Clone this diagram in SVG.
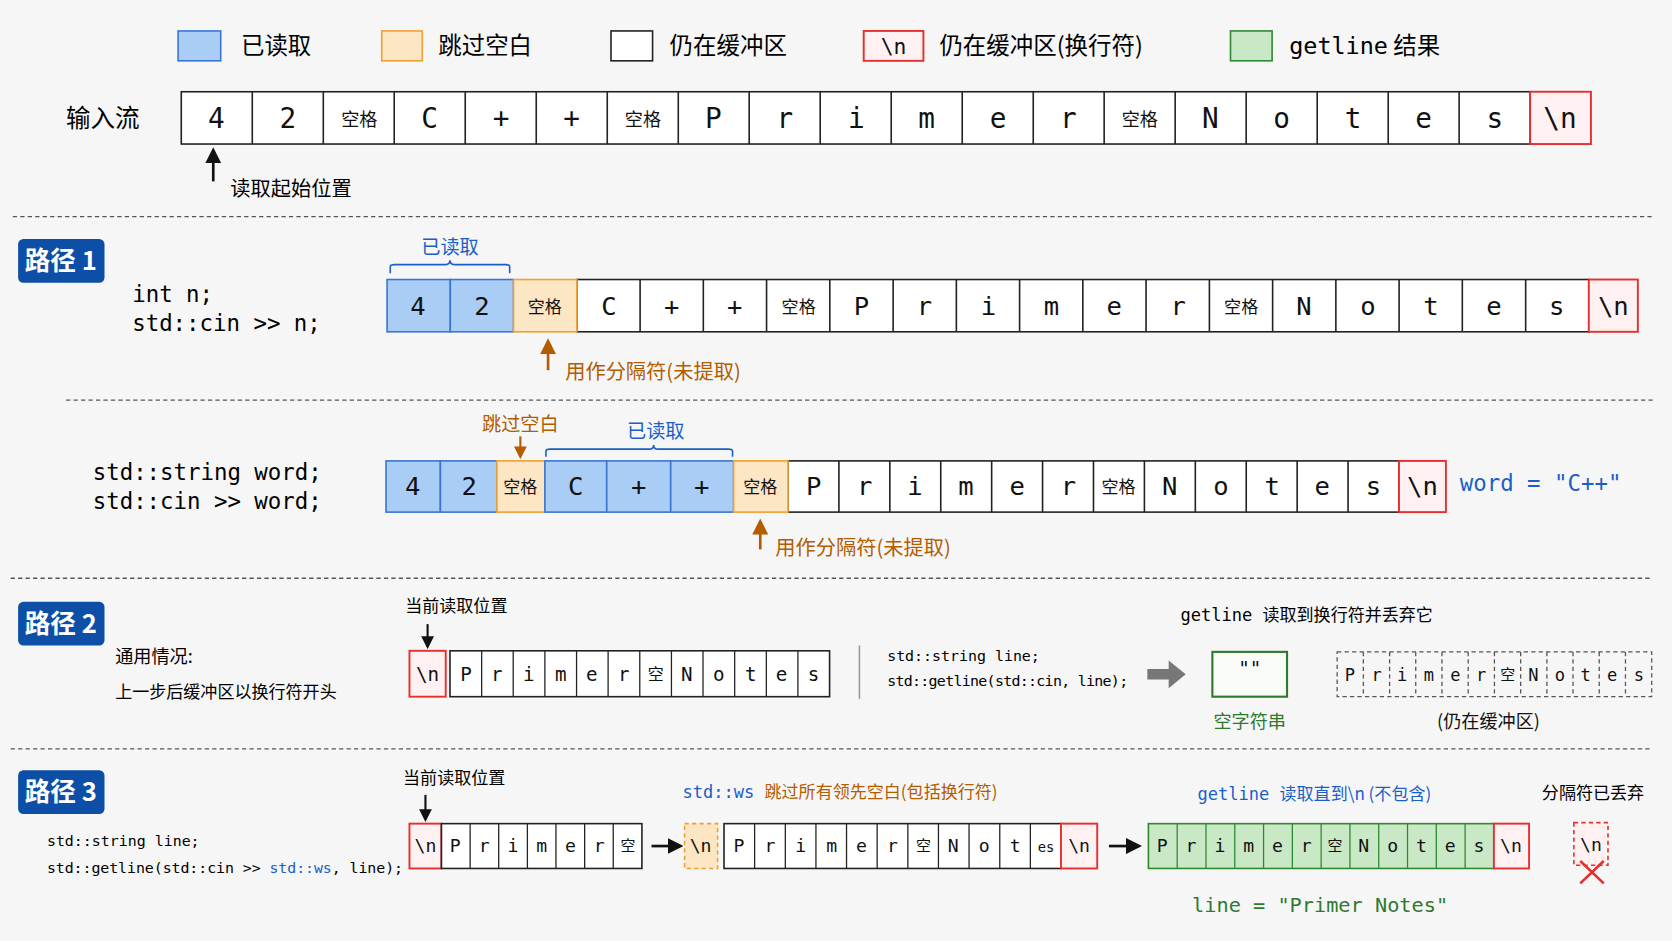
<svg xmlns="http://www.w3.org/2000/svg" width="1672" height="941" viewBox="0 0 1672 941">
<defs>
<style>
.cj{font-family:"Noto Sans CJK SC","Noto Sans",sans-serif}
.mo{font-family:"DejaVu Sans Mono","Liberation Mono","Noto Sans CJK SC",monospace}
.w{fill:#fff;stroke:#222;stroke-width:1.5}
.b{fill:#a9cdf5;stroke:#3a76d0;stroke-width:1.5}
.o{fill:#fde6c4;stroke:#f0a030;stroke-width:1.5}
.r{fill:#fff1f1;stroke:#e53030;stroke-width:1.8}
.g{fill:#c9e8c6;stroke:#2f8a2f;stroke-width:1.5}
.dash{stroke:#555;stroke-width:1.2;stroke-dasharray:4 3;fill:none}
.t{text-anchor:middle;fill:#111}
.badge{fill:#0d4ea6}
.bt{fill:#fff;font-weight:bold;font-size:24px;text-anchor:middle}
</style>
<marker id="ab" viewBox="0 0 10 10" refX="8" refY="5" markerWidth="6" markerHeight="6" orient="auto"><path d="M0,0L10,5L0,10z" fill="#111"/></marker>
<marker id="ao" viewBox="0 0 10 10" refX="8" refY="5" markerWidth="6" markerHeight="6" orient="auto"><path d="M0,0L10,5L0,10z" fill="#b35c00"/></marker>
</defs>
<rect width="1672" height="941" fill="#f6f6f6"/>
<g transform="scale(1.0663,1.0669)">
<g id="legend" class="cj" font-size="22">
<rect x="167" y="29" width="40" height="28" class="b"/><text x="226" y="51">已读取</text>
<rect x="358" y="29" width="38" height="28" class="o"/><text x="411" y="51">跳过空白</text>
<rect x="573" y="29" width="39" height="28" class="w"/><text x="628" y="51">仍在缓冲区</text>
<rect x="810" y="29" width="56" height="28" class="r"/><text x="838" y="51" class="t mo" font-size="20">\n</text><text x="881" y="51">仍在缓冲区(换行符)</text>
<rect x="1154" y="29" width="39" height="28" class="g"/><text x="1209" y="51"><tspan class="mo">getline</tspan> 结果</text>
</g>
<g id="input" class="mo" font-size="26">
<text x="62" y="119" class="cj" font-size="23">输入流</text>
<g fill="#fff" stroke="#222" stroke-width="1.5">
<rect x="170" y="86" width="1265" height="49"/>
</g>
<path d="M236.6,86V135M303.2,86V135M369.7,86V135M436.3,86V135M502.9,86V135M569.5,86V135M636.1,86V135M702.6,86V135M769.2,86V135M835.8,86V135M902.4,86V135M969,86V135M1035.5,86V135M1102.1,86V135M1168.7,86V135M1235.3,86V135M1301.9,86V135M1368.4,86V135" stroke="#222" stroke-width="1.5"/>
<rect x="1435" y="86" width="57" height="49" class="r"/>
<g class="t">
<text x="203" y="120">4</text><text x="270" y="120">2</text><text x="337" y="118" class="cj" font-size="17">空格</text><text x="403" y="120">C</text><text x="470" y="120">+</text><text x="536" y="120">+</text><text x="603" y="118" class="cj" font-size="17">空格</text><text x="669" y="120">P</text><text x="736" y="120">r</text><text x="803" y="120">i</text><text x="869" y="120">m</text><text x="936" y="120">e</text><text x="1002" y="120">r</text><text x="1069" y="118" class="cj" font-size="17">空格</text><text x="1135" y="120">N</text><text x="1202" y="120">o</text><text x="1269" y="120">t</text><text x="1335" y="120">e</text><text x="1402" y="120">s</text><text x="1463" y="120">\n</text>
</g>
<line x1="200" y1="170" x2="200" y2="141" stroke="#111" stroke-width="2.5" marker-end="url(#ab)"/>
<text x="216" y="184" class="cj" font-size="19">读取起始位置</text>
</g>
<g id="separators">
<line x1="12" y1="203" x2="1552" y2="203" class="dash"/>
<line x1="62" y1="375" x2="1550" y2="375" class="dash"/>
<line x1="10" y1="542" x2="1550" y2="542" class="dash"/>
<line x1="10" y1="702" x2="1550" y2="702" class="dash"/>
</g>
<g id="path1" class="mo" font-size="26">
<rect x="17" y="224" width="81" height="41" rx="5" class="badge"/><text x="57" y="253" class="bt cj">路径 1</text>
<text x="124" y="283" font-size="21">int n;</text><text x="124" y="310" font-size="21">std::cin &gt;&gt; n;</text>
<rect x="541" y="262" width="949" height="49" class="w"/>
<path d="M600.3,262V311M659.6,262V311M718.9,262V311M778.2,262V311M837.6,262V311M896.9,262V311M956.2,262V311M1015.5,262V311M1074.8,262V311M1134.2,262V311M1193.5,262V311M1252.8,262V311M1312.1,262V311M1371.4,262V311M1430.8,262V311" stroke="#222" stroke-width="1.5"/>
<rect x="363" y="262" width="59.3" height="49" class="b"/><rect x="422.3" y="262" width="59.3" height="49" class="b"/><rect x="481.6" y="262" width="59.4" height="49" class="o"/>
<rect x="1490" y="262" width="46" height="49" class="r"/>
<g class="t" font-size="24">
<text x="392" y="295">4</text><text x="452" y="295">2</text><text x="511" y="293" class="cj" font-size="16">空格</text><text x="571" y="295">C</text><text x="630" y="295">+</text><text x="689" y="295">+</text><text x="749" y="293" class="cj" font-size="16">空格</text><text x="808" y="295">P</text><text x="867" y="295">r</text><text x="927" y="295">i</text><text x="986" y="295">m</text><text x="1045" y="295">e</text><text x="1105" y="295">r</text><text x="1164" y="293" class="cj" font-size="16">空格</text><text x="1223" y="295">N</text><text x="1283" y="295">o</text><text x="1342" y="295">t</text><text x="1401" y="295">e</text><text x="1460" y="295">s</text><text x="1513" y="295">\n</text>
</g>
<path d="M366,256V250Q366,248 370,248H418Q422,248 422,244Q422,248 426,248H474Q478,248 478,250V256" fill="none" stroke="#1a5fc8" stroke-width="1.5"/>
<text x="422" y="238" class="cj t" font-size="18" fill="#1a5fc8" style="fill:#1a5fc8">已读取</text>
<line x1="514" y1="347" x2="514" y2="320" stroke="#b35c00" stroke-width="2.5" marker-end="url(#ao)"/>
<text x="530" y="355" class="cj" font-size="19" fill="#b35c00">用作分隔符(未提取)</text>
</g>
<g id="path1b" class="mo" font-size="24">
<text x="87" y="450" font-size="21">std::string word;</text><text x="87" y="477" font-size="21">std::cin &gt;&gt; word;</text>
<rect x="739" y="432" width="573" height="48" class="w"/>
<path d="M786.75,432V480M834.5,432V480M882.25,432V480M930,432V480M977.75,432V480M1025.5,432V480M1073.25,432V480M1121,432V480M1168.75,432V480M1216.5,432V480M1264.25,432V480" stroke="#222" stroke-width="1.5"/>
<rect x="362" y="432" width="51" height="48" class="b"/><rect x="413" y="432" width="53" height="48" class="b"/><rect x="466" y="432" width="45" height="48" class="o"/><rect x="511" y="432" width="58" height="48" class="b"/><rect x="569" y="432" width="60" height="48" class="b"/><rect x="629" y="432" width="59" height="48" class="b"/><rect x="688" y="432" width="51" height="48" class="o"/>
<rect x="1312" y="432" width="44" height="48" class="r"/>
<g class="t">
<text x="387" y="464">4</text><text x="440" y="464">2</text><text x="488" y="462" class="cj" font-size="16">空格</text><text x="540" y="464">C</text><text x="599" y="464">+</text><text x="658" y="464">+</text><text x="713" y="462" class="cj" font-size="16">空格</text><text x="763" y="464">P</text><text x="811" y="464">r</text><text x="858" y="464">i</text><text x="906" y="464">m</text><text x="954" y="464">e</text><text x="1002" y="464">r</text><text x="1049" y="462" class="cj" font-size="16">空格</text><text x="1097" y="464">N</text><text x="1145" y="464">o</text><text x="1193" y="464">t</text><text x="1240" y="464">e</text><text x="1288" y="464">s</text><text x="1334" y="464">\n</text>
</g>
<text x="1369" y="460" font-size="21" fill="#1a5fc8">word = "C++"</text>
<text x="488" y="404" class="cj t" font-size="18" style="fill:#b35c00">跳过空白</text>
<line x1="488" y1="409" x2="488" y2="428" stroke="#b35c00" stroke-width="2" marker-end="url(#ao)"/>
<path d="M512,428V423Q512,421 516,421H609Q613,421 613,417Q613,421 617,421H683Q687,421 687,423V428" fill="none" stroke="#1a5fc8" stroke-width="1.5"/>
<text x="615" y="411" class="cj t" font-size="18" style="fill:#1a5fc8">已读取</text>
<line x1="713" y1="515" x2="713" y2="489" stroke="#b35c00" stroke-width="2.5" marker-end="url(#ao)"/>
<text x="727" y="520" class="cj" font-size="19" fill="#b35c00">用作分隔符(未提取)</text>
</g>
<g id="path2" class="mo" font-size="18">
<rect x="17" y="564" width="81" height="41" rx="5" class="badge"/><text x="57" y="593" class="bt cj">路径 2</text>
<text x="108" y="621" class="cj" font-size="17">通用情况:</text>
<text x="108" y="654" class="cj" font-size="16">上一步后缓冲区以换行符开头</text>
<text x="380" y="574" class="cj" font-size="16">当前读取位置</text>
<line x1="401" y1="585" x2="401" y2="606" stroke="#111" stroke-width="2" marker-end="url(#ab)"/>
<rect x="384" y="610" width="34" height="43" class="r"/><text x="401" y="638" class="t">\n</text>
<rect x="422" y="610" width="356" height="43" class="w"/>
<path d="M451.7,610V653M481.3,610V653M511,610V653M540.7,610V653M570.3,610V653M600,610V653M629.7,610V653M659.3,610V653M689,610V653M718.7,610V653M748.3,610V653" stroke="#222" stroke-width="1.2"/>
<g class="t"><text x="437" y="638">P</text><text x="466" y="638">r</text><text x="496" y="638">i</text><text x="526" y="638">m</text><text x="555" y="638">e</text><text x="585" y="638">r</text><text x="615" y="637" class="cj" font-size="15">空</text><text x="644" y="638">N</text><text x="674" y="638">o</text><text x="704" y="638">t</text><text x="733" y="638">e</text><text x="763" y="638">s</text></g>
<line x1="806" y1="605" x2="806" y2="655" stroke="#999" stroke-width="1.5"/>
<text x="832" y="620" font-size="14">std::string line;</text>
<text x="832" y="643" font-size="14" textLength="226">std::getline(std::cin, line);</text>
<path d="M1076,627H1096V619L1112,632L1096,645V637H1076Z" fill="#777"/>
<rect x="1137" y="611" width="70" height="42" fill="#f8fbf8" stroke="#2f7a2f" stroke-width="2"/><text x="1172" y="633" class="t">""</text>
<text x="1172" y="682" class="cj t" font-size="17" style="fill:#2f7a2f">空字符串</text>
<text x="1107" y="582" font-size="16"><tspan>getline</tspan> <tspan class="cj">读取到换行符并丢弃它</tspan></text>
<rect x="1254" y="611" width="295" height="42" class="dash"/>
<path d="M1278.6,611V653M1303.2,611V653M1327.7,611V653M1352.3,611V653M1376.9,611V653M1401.5,611V653M1426.1,611V653M1450.7,611V653M1475.2,611V653M1499.8,611V653M1524.4,611V653" class="dash"/>
<g class="t" font-size="16"><text x="1266" y="638">P</text><text x="1291" y="638">r</text><text x="1315" y="638">i</text><text x="1340" y="638">m</text><text x="1365" y="638">e</text><text x="1389" y="638">r</text><text x="1414" y="637" class="cj" font-size="14">空</text><text x="1438" y="638">N</text><text x="1463" y="638">o</text><text x="1487" y="638">t</text><text x="1512" y="638">e</text><text x="1537" y="638">s</text></g>
<text x="1396" y="682" class="cj t" font-size="17">(仍在缓冲区)</text>
</g>
<g id="path3" class="mo" font-size="17">
<rect x="17" y="722" width="81" height="41" rx="5" class="badge"/><text x="57" y="751" class="bt cj">路径 3</text>
<text x="44" y="793" font-size="14">std::string line;</text>
<text x="44" y="818" font-size="14" textLength="334">std::getline(std::cin &gt;&gt; <tspan fill="#1a5fc8">std::ws</tspan>, line);</text>
<text x="378" y="735" class="cj" font-size="16">当前读取位置</text>
<line x1="399" y1="745" x2="399" y2="768" stroke="#111" stroke-width="2" marker-end="url(#ab)"/>
<rect x="384" y="772" width="30" height="42" class="r"/><text x="399" y="799" class="t">\n</text>
<rect x="414" y="772" width="188" height="42" class="w"/>
<path d="M440.9,772V814M467.7,772V814M494.6,772V814M521.4,772V814M548.3,772V814M575.1,772V814" stroke="#222" stroke-width="1.2"/>
<g class="t"><text x="427" y="799">P</text><text x="454" y="799">r</text><text x="481" y="799">i</text><text x="508" y="799">m</text><text x="535" y="799">e</text><text x="562" y="799">r</text><text x="589" y="798" class="cj" font-size="14">空</text></g>
<line x1="611" y1="793" x2="638" y2="793" stroke="#111" stroke-width="2.5" marker-end="url(#ab)"/>
<rect x="642" y="772" width="31" height="42" fill="#fde6c4" stroke="#f0a030" stroke-width="1.5" stroke-dasharray="4 3"/><text x="657" y="799" class="t">\n</text>
<rect x="679" y="772" width="316" height="42" class="w"/>
<path d="M707.7,772V814M736.5,772V814M765.2,772V814M793.9,772V814M822.6,772V814M851.4,772V814M880.1,772V814M908.8,772V814M937.6,772V814M966.3,772V814" stroke="#222" stroke-width="1.2"/>
<g class="t"><text x="693" y="799">P</text><text x="722" y="799">r</text><text x="751" y="799">i</text><text x="780" y="799">m</text><text x="808" y="799">e</text><text x="837" y="799">r</text><text x="866" y="798" class="cj" font-size="14">空</text><text x="894" y="799">N</text><text x="923" y="799">o</text><text x="952" y="799">t</text><text x="981" y="799" font-size="13">es</text></g>
<rect x="995" y="772" width="34" height="42" class="r"/><text x="1012" y="799" class="t">\n</text>
<line x1="1040" y1="793" x2="1068" y2="793" stroke="#111" stroke-width="2.5" marker-end="url(#ab)"/>
<rect x="1077" y="772" width="324" height="42" class="g"/>
<path d="M1104,772V814M1131,772V814M1158,772V814M1185,772V814M1212,772V814M1239,772V814M1266,772V814M1293,772V814M1320,772V814M1347,772V814M1374,772V814" stroke="#2f8a2f" stroke-width="1.2"/>
<g class="t"><text x="1090" y="799">P</text><text x="1117" y="799">r</text><text x="1144" y="799">i</text><text x="1171" y="799">m</text><text x="1198" y="799">e</text><text x="1225" y="799">r</text><text x="1252" y="798" class="cj" font-size="14">空</text><text x="1279" y="799">N</text><text x="1306" y="799">o</text><text x="1333" y="799">t</text><text x="1360" y="799">e</text><text x="1387" y="799">s</text></g>
<rect x="1401" y="772" width="33" height="42" class="r"/><text x="1417" y="799" class="t">\n</text>
<text x="640" y="748" font-size="16"><tspan fill="#1a5fc8">std::ws</tspan> <tspan class="cj" fill="#b35c00">跳过所有领先空白(包括换行符)</tspan></text>
<text x="1123" y="750" font-size="16" fill="#1a5fc8">getline <tspan class="cj">读取直到\n (不包含)</tspan></text>
<text x="1446" y="749" class="cj" font-size="16">分隔符已丢弃</text>
<rect x="1476" y="771" width="32" height="40" fill="#fff1f1" stroke="#e53030" stroke-width="1.5" stroke-dasharray="4 3"/><text x="1492" y="798" class="t">\n</text>
<path d="M1482,807L1504,828M1504,807L1482,828" stroke="#e53030" stroke-width="2.5"/>
<text x="1118" y="855" font-size="19" fill="#2f7a2f">line = "Primer Notes"</text>
</g>
</g>
</svg>
